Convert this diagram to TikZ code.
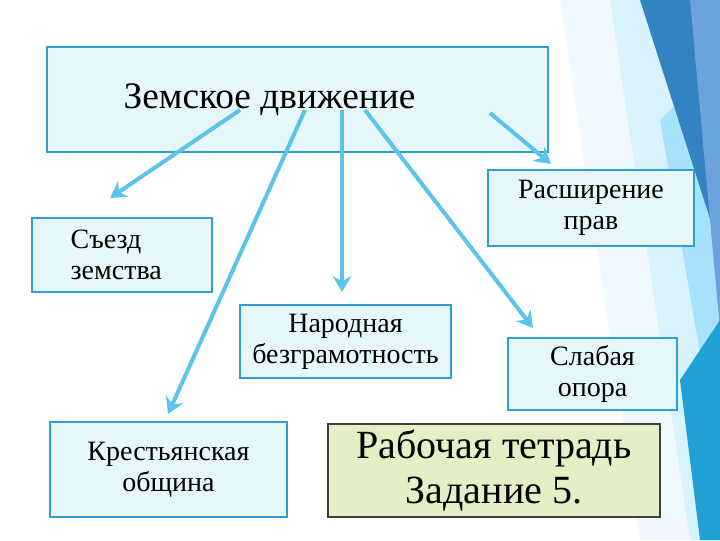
\documentclass[tikz,border=0pt]{standalone}
\usepackage{fontspec}
\setmainfont{Liberation Serif}
\usetikzlibrary{arrows.meta}
\definecolor{boxfill}{HTML}{E6F7FB}
\definecolor{boxline}{HTML}{2E9FD0}
\definecolor{arr}{HTML}{5CC3EA}
\definecolor{greenfill}{HTML}{E4EFC6}
\tikzset{
  bx/.style={draw=boxline,line width=1.6pt,fill=boxfill,align=center,inner sep=0pt,font=\fontsize{21}{23}\selectfont},
  ar/.style={draw=arr,line width=3pt,-{Stealth[length=12pt,width=14pt,inset=4pt]}}
}
\begin{document}
\begin{tikzpicture}[x=0.75pt,y=-0.75pt]
\useasboundingbox (0,0) rectangle (720,540);
% decoration right
\fill[white] (0,0) rectangle (720,540);
\fill[cyan!6] (560,0) -- (720,0) -- (720,540) -- (640,540) -- cycle;
\fill[cyan!15] (610,0) -- (720,0) -- (720,540) -- (690,540) -- cycle;
\fill[cyan!35] (660,120) -- (720,60) -- (720,470) -- cycle;
\fill[blue!45!cyan!70!black!80] (640,0) -- (720,0) -- (720,250) -- cycle;
\fill[cyan!60!blue!60] (690,0) -- (720,0) -- (720,330) -- cycle;
\fill[cyan!70!teal] (680,380) -- (720,320) -- (720,540) -- (700,540) -- cycle;
% boxes
\node[bx,minimum width=501*0.75pt,minimum height=105*0.75pt,font=\fontsize{28}{30}\selectfont] (main) at (297.5,99.5) {\hspace*{-42pt}Земское движение};
\node[bx,minimum width=180*0.75pt,minimum height=74*0.75pt,align=left] (sez) at (122,255) {\hspace*{28pt}\parbox{105pt}{Съезд\\земства}};
\node[bx,minimum width=206*0.75pt,minimum height=76*0.75pt] (ras) at (591,208) {Расширение\\прав};
\node[bx,minimum width=211*0.75pt,minimum height=73*0.75pt] (nar) at (345.5,341.5) {Народная\\безграмотность};
\node[bx,minimum width=169*0.75pt,minimum height=72*0.75pt] (sla) at (592.5,374) {Слабая\\опора};
\node[bx,minimum width=237*0.75pt,minimum height=95*0.75pt] (kre) at (168.5,469.5) {Крестьянская\\община};
\node[draw=black!75,line width=1.6pt,fill=greenfill,minimum width=332*0.75pt,minimum height=93*0.75pt,align=center,font=\fontsize{30}{34}\selectfont] (rab) at (494,470.5) {Рабочая тетрадь\\Задание 5.};
% arrows
\coordinate (a1) at (240,110);
\coordinate (a2) at (305,110);
\coordinate (a3) at (342,110);
\coordinate (a4) at (365,110);
\coordinate (a5) at (490,113);
\coordinate (e1) at (110,198);
\coordinate (e2) at (168,414);
\coordinate (e3) at (342,292);
\coordinate (e4) at (533,328);
\coordinate (e5) at (551,164);
\draw[ar] (a1) -- (e1);
\draw[ar] (a2) -- (e2);
\draw[ar] (a3) -- (e3);
\draw[ar] (a4) -- (e4);
\draw[ar] (a5) -- (e5);
\end{tikzpicture}
\end{document}
